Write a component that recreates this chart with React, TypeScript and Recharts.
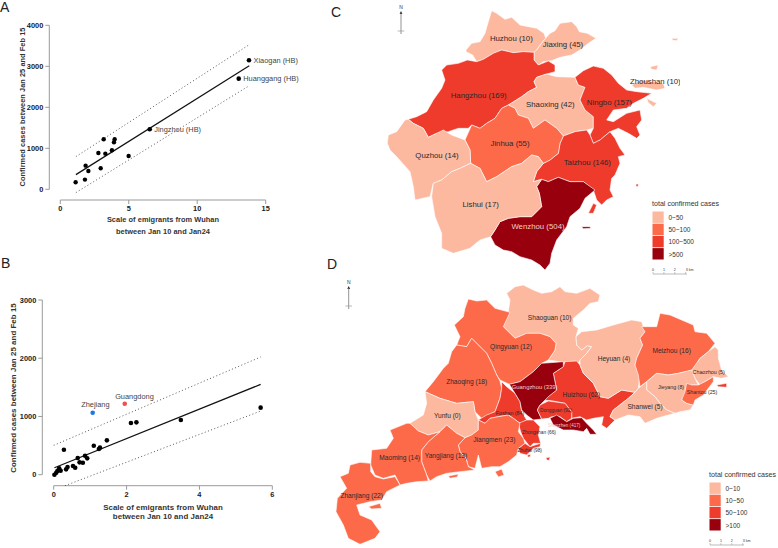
import { ScatterChart, Scatter, XAxis, YAxis, ReferenceLine } from 'recharts';

const FONT = '"Liberation Sans", Arial, sans-serif';
const LIGHT = '#fcb9a0';
const MEDIUM = '#fc6a4a';
const RED = '#ee3b2c';
const DARK = '#99000d';

// Panel A
const cityPoints = [
  { x: 1.12, y: 171 }, { x: 1.8, y: 236 }, { x: 1.85, y: 577 }, { x: 2.05, y: 447 },
  { x: 2.78, y: 886 }, { x: 2.95, y: 512 }, { x: 3.17, y: 1220 }, { x: 3.29, y: 870 },
  { x: 3.77, y: 951 }, { x: 3.92, y: 1146 }, { x: 3.97, y: 1220 }, { x: 4.99, y: 813 },
];
const namedCities = [
  { x: 6.53, y: 1463, name: 'Jingzhou (HB)' },
  { x: 13.03, y: 2699, name: 'Huanggang (HB)' },
  { x: 13.78, y: 3146, name: 'Xiaogan (HB)' },
];
const cityFit = [{ x: 1.14, y: 358 }, { x: 13.8, y: 3016 }];
const cityUpper = [{ x: 1.14, y: 797 }, { x: 13.8, y: 3528 }];
const cityLower = [{ x: 1.14, y: -81 }, { x: 13.8, y: 2528 }];
const cityXTicks = [0, 5, 10, 15];
const cityYTicks = [0, 1000, 2000, 3000, 4000];

// Panel B
const provincePoints = [
  { x: 0.02, y: 0 }, { x: 0.07, y: 34 }, { x: 0.1, y: 63 }, { x: 0.15, y: 109 }, { x: 0.19, y: 69 },
  { x: 0.28, y: 429 }, { x: 0.34, y: 92 }, { x: 0.38, y: 132 }, { x: 0.53, y: 149 }, { x: 0.59, y: 120 },
  { x: 0.66, y: 286 }, { x: 0.71, y: 212 }, { x: 0.8, y: 206 }, { x: 0.86, y: 326 }, { x: 0.92, y: 281 },
  { x: 1.1, y: 498 }, { x: 1.24, y: 441 }, { x: 1.27, y: 464 }, { x: 1.46, y: 590 }, { x: 2.12, y: 887 },
  { x: 2.27, y: 899 }, { x: 3.49, y: 939 }, { x: 5.68, y: 1151 },
];
const zhejiangPoint = [{ x: 1.07, y: 1065, name: 'Zhejiang' }];
const guangdongPoint = [{ x: 1.95, y: 1219, name: 'Guangdong' }];
const provinceFit = [{ x: 0.02, y: 120 }, { x: 5.68, y: 1551 }];
const provinceUpper = [{ x: 0, y: 504 }, { x: 5.68, y: 2021 }];
const provinceLower = [{ x: 0.31, y: -189 }, { x: 5.68, y: 1093 }];
const provinceXTicks = [0, 2, 4, 6];
const provinceYTicks = [0, 1000, 2000, 3000];

// Panel C, outlines in map units
const huzhou = [[258,150],[275,130],[300,125],[315,100],[322,75],[335,32],[350,40],[375,58],[395,52],[420,75],[445,80],[470,85],[492,100],[497,115],[488,125],[470,150],[462,157],[430,155],[400,158],[365,150],[340,160],[310,178],[290,185],[278,165],[258,155]];
const jiaxing = [[462,157],[470,150],[488,125],[497,115],[510,100],[525,92],[540,70],[575,65],[590,80],[598,95],[622,100],[648,115],[625,130],[600,150],[575,165],[540,172],[515,182],[490,185],[475,195],[462,180]];
const hangzhou = [[85,358],[110,350],[140,335],[160,300],[185,265],[195,240],[185,210],[200,195],[235,190],[262,180],[290,185],[310,178],[340,160],[365,150],[400,158],[430,155],[462,157],[462,180],[475,195],[505,183],[525,195],[525,215],[500,222],[470,232],[462,245],[470,262],[445,275],[425,290],[385,315],[365,325],[345,355],[320,370],[300,385],[275,375],[265,385],[235,385],[205,395],[170,400],[145,412],[130,385],[100,370]];
const shaoxing = [[385,315],[425,290],[445,275],[470,262],[462,245],[470,232],[500,222],[530,230],[585,232],[595,255],[615,262],[600,300],[615,330],[640,350],[640,385],[620,390],[585,395],[550,408],[530,385],[495,360],[460,385],[445,355],[415,345],[405,325]];
const ningbo = [[585,232],[610,212],[640,198],[670,205],[695,225],[715,250],[740,270],[770,275],[815,280],[790,295],[760,310],[740,325],[700,330],[680,360],[700,365],[740,340],[780,330],[785,360],[770,380],[780,405],[770,415],[745,400],[715,385],[690,395],[660,420],[640,430],[630,405],[640,385],[640,350],[615,330],[600,300],[615,262],[595,255]];
const taizhou = [[550,408],[585,395],[620,390],[630,405],[640,430],[660,420],[690,395],[705,415],[720,445],[735,465],[715,470],[720,490],[705,525],[695,535],[690,570],[700,590],[680,600],[665,615],[650,600],[640,570],[610,545],[570,545],[535,532],[505,545],[485,538],[460,545],[470,515],[490,490],[510,480],[535,460],[540,430]];
const taizhouIsland = [[625,640],[640,610],[650,615],[640,640]];
const taizhouIslet = [[768,552],[775,552],[774,560],[768,559]];
const wenzhou = [[485,538],[505,545],[535,532],[570,545],[610,545],[645,570],[615,595],[600,625],[570,650],[560,680],[530,720],[515,760],[510,790],[495,810],[480,795],[455,780],[420,770],[395,755],[370,750],[345,735],[332,710],[345,690],[360,665],[385,655],[420,650],[455,650],[485,620],[478,580],[470,560]];
const wenzhouIsland = [[605,680],[630,680],[632,685],[610,686]];
const jinhua = [[255,420],[275,375],[300,385],[320,370],[345,355],[365,325],[385,315],[405,325],[415,345],[445,355],[460,385],[495,360],[530,385],[550,408],[540,430],[535,460],[510,480],[490,490],[475,470],[455,465],[425,490],[395,500],[350,530],[320,545],[300,505],[272,490],[270,450]];
const quzhou = [[22,430],[25,405],[50,395],[75,360],[85,358],[100,370],[130,385],[145,412],[170,400],[190,390],[215,405],[255,420],[270,450],[272,490],[240,505],[215,515],[185,540],[160,550],[150,590],[105,600],[100,560],[90,515],[50,470],[30,450]];
const lishui = [[160,550],[185,540],[215,515],[240,505],[272,490],[300,505],[320,545],[350,530],[395,500],[425,490],[455,465],[475,470],[490,490],[470,515],[460,545],[485,538],[470,560],[478,580],[485,620],[455,650],[420,650],[385,655],[360,665],[345,690],[332,710],[300,720],[270,745],[220,760],[185,745],[185,700],[165,650],[155,590]];
const zhoushan = [[755,255],[785,240],[815,245],[850,250],[855,265],[830,270],[790,262],[765,265]];
const zhoushanNorth = [[810,200],[835,195],[830,210],[815,208]];
const zhoushanSouth = [[800,295],[830,310],[820,320],[805,308]];
const zhoushanFar = [[875,115],[895,115],[890,122],[878,121]];

const zhejiangRegions = [
  { outline: huzhou, color: LIGHT }, { outline: jiaxing, color: LIGHT }, { outline: hangzhou, color: RED },
  { outline: shaoxing, color: LIGHT }, { outline: ningbo, color: RED }, { outline: taizhou, color: RED },
  { outline: taizhouIsland, color: RED }, { outline: taizhouIslet, color: RED }, { outline: wenzhou, color: DARK },
  { outline: wenzhouIsland, color: DARK }, { outline: jinhua, color: MEDIUM }, { outline: quzhou, color: LIGHT },
  { outline: lishui, color: LIGHT }, { outline: zhoushan, color: LIGHT }, { outline: zhoushanNorth, color: LIGHT },
  { outline: zhoushanSouth, color: LIGHT }, { outline: zhoushanFar, color: LIGHT },
];
const zhejiangLabels = [
  { x: 394, y: 114, name: 'Huzhou (10)' }, { x: 549, y: 133, name: 'Jiaxing (45)' },
  { x: 296, y: 285, name: 'Hangzhou (169)' }, { x: 511, y: 314, name: 'Shaoxing (42)' },
  { x: 688, y: 308, name: 'Ningbo (157)' }, { x: 826, y: 245, name: 'Zhoushan (10)' },
  { x: 390, y: 431, name: 'Jinhua (55)' }, { x: 171, y: 465, name: 'Quzhou (14)' },
  { x: 622, y: 487, name: 'Taizhou (146)' }, { x: 302, y: 612, name: 'Lishui (17)' },
];
const zhejiangWhiteLabels = [{ x: 474, y: 680, name: 'Wenzhou (504)' }];

// Panel D, outlines in map units
const shaoguan = [[620,55],[645,35],[670,30],[700,45],[725,55],[755,50],[780,35],[795,50],[830,55],[870,40],[900,60],[895,80],[870,85],[850,105],[820,130],[820,150],[835,160],[828,185],[830,210],[845,225],[862,212],[875,215],[860,235],[840,255],[838,262],[790,262],[745,255],[765,225],[768,205],[750,185],[720,175],[680,175],[645,190],[610,155],[625,110],[630,75]];
const qingyuan = [[505,72],[530,78],[560,75],[585,100],[630,112],[610,155],[645,190],[680,175],[720,175],[750,185],[768,205],[765,225],[745,255],[725,265],[700,290],[660,320],[628,328],[600,315],[590,300],[575,265],[560,235],[530,205],[515,190],[500,215],[470,210],[480,185],[463,150],[490,125],[495,100]];
const zhaoqing = [[470,210],[500,215],[515,190],[530,205],[560,235],[575,265],[590,300],[600,318],[605,340],[600,370],[585,410],[545,430],[525,410],[520,380],[470,385],[420,370],[375,350],[400,320],[430,280],[445,265],[455,230]];
const yunfu = [[375,350],[420,370],[470,385],[520,380],[525,410],[535,435],[535,465],[515,480],[495,488],[470,475],[440,450],[420,470],[385,480],[355,468],[330,445],[370,420],[380,385]];
const foshan = [[605,320],[620,335],[645,355],[660,380],[665,410],[680,435],[660,445],[640,430],[625,420],[595,425],[570,430],[555,445],[535,435],[560,420],[585,410],[600,370],[605,340]];
const guangzhou = [[628,328],[660,320],[700,290],[725,265],[790,260],[790,275],[760,295],[770,345],[745,365],[720,390],[712,405],[725,432],[700,435],[680,420],[665,405],[660,380],[645,355]];
const huizhou = [[760,295],[790,275],[795,260],[830,258],[840,270],[850,295],[880,325],[900,365],[925,370],[965,345],[1005,352],[985,370],[940,405],[930,425],[945,435],[920,460],[905,450],[910,425],[880,430],[860,435],[840,425],[815,430],[815,410],[795,385],[760,378],[730,375],[770,345]];
const dongguan = [[712,405],[720,390],[745,378],[795,385],[815,410],[815,430],[800,440],[780,425],[755,425],[745,430],[725,432]];
const shenzhen = [[750,430],[770,420],[800,440],[820,430],[845,428],[860,445],[880,465],[890,478],[870,478],[860,460],[850,470],[820,465],[790,465],[760,450]];
const zhongshan = [[655,445],[680,435],[700,435],[720,455],[715,480],[722,505],[700,505],[690,515],[670,490],[662,470]];
const zhuhai = [[655,520],[675,505],[690,515],[705,510],[722,505],[720,515],[700,520],[680,540],[660,535]];
const zhuhaiIslet = [[682,540],[692,538],[690,546],[683,546]];
const wanshanIslet = [[738,548],[750,546],[748,556],[740,555]];
const jiangmen = [[535,435],[555,445],[570,430],[595,425],[625,420],[640,430],[660,445],[655,470],[670,490],[675,505],[655,520],[650,540],[625,560],[600,575],[575,575],[545,580],[535,540],[525,580],[505,575],[498,550],[480,530],[475,510],[495,488],[515,480],[535,465]];
const shangchuanIsland = [[585,590],[605,582],[612,600],[595,606]];
const yangjiang = [[365,525],[385,500],[420,470],[440,450],[470,475],[495,488],[475,510],[480,530],[498,550],[505,575],[525,585],[480,590],[440,595],[410,605],[390,618],[380,600],[365,560]];
const hailingIsland = [[445,603],[475,597],[472,606],[450,610]];
const maoming = [[270,465],[320,445],[330,445],[355,468],[385,480],[420,470],[385,500],[365,525],[365,560],[380,600],[385,618],[350,620],[320,625],[300,630],[285,600],[250,610],[225,600],[212,570],[215,525],[260,520],[280,490]];
const zhanjiang = [[150,570],[180,562],[212,565],[212,590],[225,605],[250,612],[285,605],[300,630],[260,650],[245,675],[210,680],[170,690],[180,720],[215,735],[240,770],[225,790],[180,808],[145,790],[130,750],[108,710],[112,670],[140,640],[120,605],[145,595]];
const zhanjiangIsland = [[205,695],[240,685],[245,700],[215,702]];
const heyuan = [[828,185],[845,170],[890,165],[940,150],[995,135],[1025,140],[1035,170],[1020,190],[1028,210],[1010,250],[1005,270],[1020,300],[1015,340],[1005,352],[965,345],[925,370],[900,365],[880,325],[850,295],[840,270],[840,255],[860,235],[875,215],[862,212],[845,225],[830,210]];
const meizhou = [[1025,155],[1070,155],[1080,115],[1110,120],[1145,135],[1180,150],[1185,170],[1220,175],[1245,205],[1225,230],[1200,250],[1180,285],[1135,295],[1105,300],[1070,295],[1040,320],[1020,335],[1015,300],[1005,270],[1010,250],[1028,210],[1020,190],[1035,170]];
const chaozhou = [[1245,215],[1255,225],[1255,250],[1265,285],[1285,305],[1265,310],[1240,305],[1215,320],[1200,330],[1185,310],[1175,285],[1200,250],[1225,230]];
const jieyang = [[1040,320],[1070,295],[1105,300],[1135,295],[1175,285],[1185,310],[1195,330],[1175,330],[1155,340],[1160,355],[1145,375],[1160,385],[1180,390],[1170,405],[1140,410],[1125,415],[1100,405],[1080,385],[1065,365],[1040,345]];
const shantou = [[1160,325],[1175,330],[1195,330],[1215,320],[1240,305],[1240,320],[1225,340],[1210,360],[1185,375],[1180,390],[1160,385],[1145,375],[1155,350]];
const shantouIsland = [[1250,330],[1280,325],[1280,337],[1255,335]];
const shanwei = [[940,405],[985,370],[1005,352],[1015,340],[1040,320],[1040,345],[1065,365],[1080,385],[1100,405],[1125,415],[1105,420],[1070,430],[1035,445],[1020,425],[985,420],[945,435],[930,425]];

const guangdongRegions = [
  { outline: shaoguan, color: LIGHT }, { outline: qingyuan, color: MEDIUM }, { outline: zhaoqing, color: MEDIUM },
  { outline: yunfu, color: LIGHT }, { outline: huizhou, color: RED }, { outline: foshan, color: RED },
  { outline: guangzhou, color: DARK }, { outline: dongguan, color: RED }, { outline: shenzhen, color: DARK },
  { outline: zhongshan, color: RED }, { outline: zhuhai, color: RED }, { outline: zhuhaiIslet, color: RED },
  { outline: wanshanIslet, color: RED }, { outline: jiangmen, color: MEDIUM }, { outline: shangchuanIsland, color: MEDIUM },
  { outline: yangjiang, color: MEDIUM }, { outline: hailingIsland, color: MEDIUM }, { outline: maoming, color: MEDIUM },
  { outline: zhanjiang, color: MEDIUM }, { outline: zhanjiangIsland, color: MEDIUM }, { outline: heyuan, color: LIGHT },
  { outline: meizhou, color: MEDIUM }, { outline: chaozhou, color: LIGHT }, { outline: jieyang, color: LIGHT },
  { outline: shantou, color: MEDIUM }, { outline: shantouIsland, color: RED }, { outline: shanwei, color: LIGHT },
];
const guangdongLabels = [
  { x: 749, y: 126, name: 'Shaoguan (10)' }, { x: 633, y: 213, name: 'Qingyuan (12)' },
  { x: 500, y: 320, name: 'Zhaoqing (18)' }, { x: 442, y: 421, name: 'Yunfu (0)' },
  { x: 844, y: 358, name: 'Huizhou (62)' }, { x: 583, y: 494, name: 'Jiangmen (23)' },
  { x: 438, y: 541, name: 'Yangjiang (13)' }, { x: 299, y: 547, name: 'Maoming (14)' },
  { x: 185, y: 662, name: 'Zhanjiang (22)' }, { x: 942, y: 251, name: 'Heyuan (4)' },
  { x: 1115, y: 225, name: 'Meizhou (16)' }, { x: 1035, y: 393, name: 'Shanwei (5)' },
];
const guangdongSmallLabels = [
  { x: 630, y: 413, name: 'Foshan (84)' }, { x: 1226, y: 291, name: 'Chaozhou (5)' },
  { x: 1113, y: 335, name: 'Jieyang (8)' }, { x: 1206, y: 351, name: 'Shantou (25)' },
];
const guangdongTinyLabels = [
  { x: 768, y: 407, name: 'Dongguan (92)' }, { x: 717, y: 471, name: 'Zhongshan (66)' },
  { x: 689, y: 526, name: 'Zhuhai (98)' },
];
const guangdongWhiteLabels = [{ x: 704, y: 336, name: 'Guangzhou (339)' }];
const guangdongTinyWhiteLabels = [{ x: 792, y: 452, name: 'Shenzhen (417)' }];

// Legends
const legendColors = [LIGHT, MEDIUM, RED, DARK];
const zhejiangBins = ['0~50', '50~100', '100~500', '>500'];
const guangdongBins = ['0~10', '10~50', '50~100', '>100'];
const scaleTicks = ['0', '1', '2', '3 km'];

const toPoints = (outline: number[][]) => outline.map(([x, y]) => ({ x, y }));

const noDot = () => null;

const dot = (fill: string, r: number) => (props: any) => (
  <circle cx={props.cx} cy={props.cy} r={r} fill={fill} />
);

const fillOutline = (color: string) => (props: any) => (
  <path
    d={`M${props.points.map((p: any) => `${p.x},${p.y}`).join('L')}Z`}
    fill={color}
    stroke="#fff"
    strokeWidth={0.6}
    strokeLinejoin="round"
  />
);

// Text drawn at the scaled position of a point
const mapText = (size: number, fill: string) => (props: any) => (
  <text
    x={props.cx}
    y={props.cy}
    textAnchor="middle"
    dominantBaseline="central"
    fontSize={size}
    fontFamily={FONT}
    fill={fill}
  >
    {props.payload.name}
  </text>
);

const labelledDot = (fill: string, dx: number, dy: number, anchor: string) => (props: any) => (
  <g>
    <circle cx={props.cx} cy={props.cy} r={2.3} fill={fill} />
    <text
      x={props.cx + dx}
      y={props.cy + dy}
      textAnchor={anchor as any}
      dominantBaseline="central"
      fontSize={7.4}
      fontFamily={FONT}
      fill="#444"
    >
      {props.payload.name}
    </text>
  </g>
);

const tickStyle = { fontSize: 7.4, fontWeight: 700, fontFamily: FONT, fill: '#1a1a1a' };
const AXIS_GREY = '#9a9a9a';
const dottedLine = { stroke: '#444', strokeWidth: 0.9, strokeDasharray: '1 2.4' };
const fitLine = { stroke: '#111', strokeWidth: 1.2 };

interface TitleProps {
  x: number;
  y: number;
  size: number;
  rotate?: boolean;
  children: string;
}

const AxisTitle = ({ x, y, size, rotate, children }: TitleProps) => (
  <text
    x={x}
    y={y}
    textAnchor="middle"
    fontSize={size}
    fontWeight={700}
    fontFamily={FONT}
    letterSpacing={0.05}
    fill="#333"
    transform={rotate ? `rotate(-90 ${x} ${y})` : undefined}
  >
    {children}
  </text>
);

const MapChart = ({ left, top, width, height, xMax, yMax, regions, children }: any) => (
  <div style={{ position: 'absolute', left, top }}>
    <ScatterChart width={width} height={height} margin={{ top: 0, right: 0, bottom: 0, left: 0 }}>
      <XAxis type="number" dataKey="x" domain={[0, xMax]} hide allowDataOverflow />
      <YAxis type="number" dataKey="y" domain={[0, yMax]} reversed hide allowDataOverflow />
      {regions.map((region: any, i: number) => (
        <Scatter
          key={i}
          data={toPoints(region.outline)}
          shape={noDot}
          line={fillOutline(region.color)}
          isAnimationActive={false}
        />
      ))}
      {children}
    </ScatterChart>
  </div>
);

const labelSeries = (data: any[], size: number, fill: string) => (
  <Scatter data={data} shape={mapText(size, fill)} isAnimationActive={false} />
);

const NorthArrow = ({ x, y }: { x: number; y: number }) => (
  <g>
    <text x={x} y={y} textAnchor="middle" fontSize={5} fontFamily={FONT} fill="#333">N</text>
    <path d={`M${x},${y + 2}l-1.4,3h2.8z`} fill="#222" />
    <line x1={x} x2={x} y1={y + 4} y2={y + 25} stroke="#777" strokeWidth={0.8} />
    <line x1={x - 3.3} x2={x + 3.3} y1={y + 22} y2={y + 22} stroke="#999" strokeWidth={0.7} />
  </g>
);

const MapLegend = ({ x, y, bins }: { x: number; y: number; bins: string[] }) => (
  <g fontFamily={FONT} fill="#333">
    <text x={x} y={y} fontSize={7.1}>total confirmed cases</text>
    {bins.map((bin, i) => (
      <g key={bin}>
        <rect x={x + 0.5} y={y + 5.5 + i * 12.2} width={11.2} height={11.4} fill={legendColors[i]} />
        <text x={x + 16.5} y={y + 14 + i * 12.2} fontSize={6.5}>{bin}</text>
      </g>
    ))}
    {scaleTicks.map((tick, i) => (
      <g key={tick}>
        <text x={x + 1 + i * 10.9} y={y + 65} fontSize={3.6} textAnchor={i === 3 ? 'start' : 'middle'}>{tick}</text>
        <line x1={x + 1 + i * 10.9} x2={x + 1 + i * 10.9} y1={y + 66} y2={y + 68} stroke="#777" strokeWidth={0.4} />
      </g>
    ))}
    <line x1={x + 1} x2={x + 35} y1={y + 68} y2={y + 68} stroke="#777" strokeWidth={0.5} />
  </g>
);

export default function App() {
  return (
    <div style={{ position: 'absolute', left: 0, top: 0, width: 778, height: 548, background: '#fff', overflow: 'hidden' }}>
      {/* Panel A */}
      <div style={{ position: 'absolute', left: 0, top: 0 }}>
        <ScatterChart width={320} height={245} margin={{ top: 25.3, right: 54.3, bottom: 0, left: 0.3 }}>
          <XAxis
            type="number"
            dataKey="x"
            domain={[-0.803, 15]}
            ticks={cityXTicks}
            axisLine={false}
            tickLine={{ stroke: AXIS_GREY }}
            tickSize={4}
            tick={tickStyle}
            height={45}
          />
          <YAxis
            type="number"
            dataKey="y"
            domain={[-261, 4000]}
            ticks={cityYTicks}
            axisLine={false}
            tickLine={{ stroke: AXIS_GREY }}
            tickSize={4}
            tick={tickStyle}
            width={49}
          />
          <ReferenceLine segment={[{ x: 0, y: -261 }, { x: 15, y: -261 }]} stroke={AXIS_GREY} />
          <ReferenceLine segment={[{ x: -0.803, y: 0 }, { x: -0.803, y: 4000 }]} stroke={AXIS_GREY} />
          <Scatter data={cityUpper} shape={noDot} line={dottedLine} isAnimationActive={false} />
          <Scatter data={cityLower} shape={noDot} line={dottedLine} isAnimationActive={false} />
          <Scatter data={cityFit} shape={noDot} line={fitLine} isAnimationActive={false} />
          <Scatter data={cityPoints} shape={dot('#000', 2.2)} isAnimationActive={false} />
          <Scatter data={namedCities} shape={labelledDot('#000', 4.5, 0, 'start')} isAnimationActive={false} />
          <AxisTitle x={25} y={107} size={7.4} rotate>Confirmed cases between Jan 25 and Feb 15</AxisTitle>
          <AxisTitle x={163} y={222} size={7.4}>Scale of emigrants from Wuhan</AxisTitle>
          <AxisTitle x={163} y={233.5} size={7.4}>between Jan 10 and Jan24</AxisTitle>
        </ScatterChart>
      </div>

      {/* Panel B */}
      <div style={{ position: 'absolute', left: 0, top: 280 }}>
        <ScatterChart width={290} height={260} margin={{ top: 20, right: 17.7, bottom: 0, left: 0.3 }}>
          <XAxis
            type="number"
            dataKey="x"
            domain={[-0.313, 6]}
            ticks={provinceXTicks}
            axisLine={false}
            tickLine={{ stroke: AXIS_GREY }}
            tickSize={4}
            tick={tickStyle}
            height={54.3}
          />
          <YAxis
            type="number"
            dataKey="y"
            domain={[-189, 3000]}
            ticks={provinceYTicks}
            axisLine={false}
            tickLine={{ stroke: AXIS_GREY }}
            tickSize={4}
            tick={tickStyle}
            width={42}
          />
          <ReferenceLine segment={[{ x: 0, y: -189 }, { x: 6, y: -189 }]} stroke={AXIS_GREY} />
          <ReferenceLine segment={[{ x: -0.313, y: 0 }, { x: -0.313, y: 3000 }]} stroke={AXIS_GREY} />
          <Scatter data={provinceUpper} shape={noDot} line={dottedLine} isAnimationActive={false} />
          <Scatter data={provinceLower} shape={noDot} line={dottedLine} isAnimationActive={false} />
          <Scatter data={provinceFit} shape={noDot} line={fitLine} isAnimationActive={false} />
          <Scatter data={provincePoints} shape={dot('#000', 2.3)} isAnimationActive={false} />
          <Scatter data={zhejiangPoint} shape={labelledDot('#1f77e0', 2.7, -8.3, 'middle')} isAnimationActive={false} />
          <Scatter data={guangdongPoint} shape={labelledDot('#f0504a', 9.7, -7, 'middle')} isAnimationActive={false} />
          <AxisTitle x={16} y={108} size={7.9} rotate>Confirmed cases between Jan 25 and Feb 15</AxisTitle>
          <AxisTitle x={163} y={230} size={7.9}>Scale of emigrants from Wuhan</AxisTitle>
          <AxisTitle x={163} y={239} size={7.9}>between Jan 10 and Jan24</AxisTitle>
        </ScatterChart>
      </div>

      {/* Panel C */}
      <MapChart left={380} top={0} width={300} height={280} xMax={900} yMax={840} regions={zhejiangRegions}>
        {labelSeries(zhejiangLabels, 7.8, '#2a2a2a')}
        {labelSeries(zhejiangWhiteLabels, 7.8, '#f4cfc8')}
      </MapChart>

      {/* Panel D */}
      <MapChart left={300} top={275} width={478} height={273} xMax={1434} yMax={819} regions={guangdongRegions}>
        {labelSeries(guangdongLabels, 6.6, '#2a2a2a')}
        {labelSeries(guangdongSmallLabels, 5.3, '#2a2a2a')}
        {labelSeries(guangdongTinyLabels, 4.8, '#2a2a2a')}
        {labelSeries(guangdongWhiteLabels, 5.9, '#f4cfc8')}
        {labelSeries(guangdongTinyWhiteLabels, 4.6, '#f4cfc8')}
      </MapChart>

      <svg width={778} height={548} style={{ position: 'absolute', left: 0, top: 0, pointerEvents: 'none' }}>
        <g fontFamily={FONT} fontSize={14} fill="#222">
          <text x={0} y={12}>A</text>
          <text x={1} y={268}>B</text>
          <text x={331} y={17}>C</text>
          <text x={327} y={269}>D</text>
        </g>
        <NorthArrow x={401} y={9} />
        <NorthArrow x={348.7} y={284} />
        <MapLegend x={652} y={206} bins={zhejiangBins} />
        <MapLegend x={709} y={477} bins={guangdongBins} />
      </svg>
    </div>
  );
}
